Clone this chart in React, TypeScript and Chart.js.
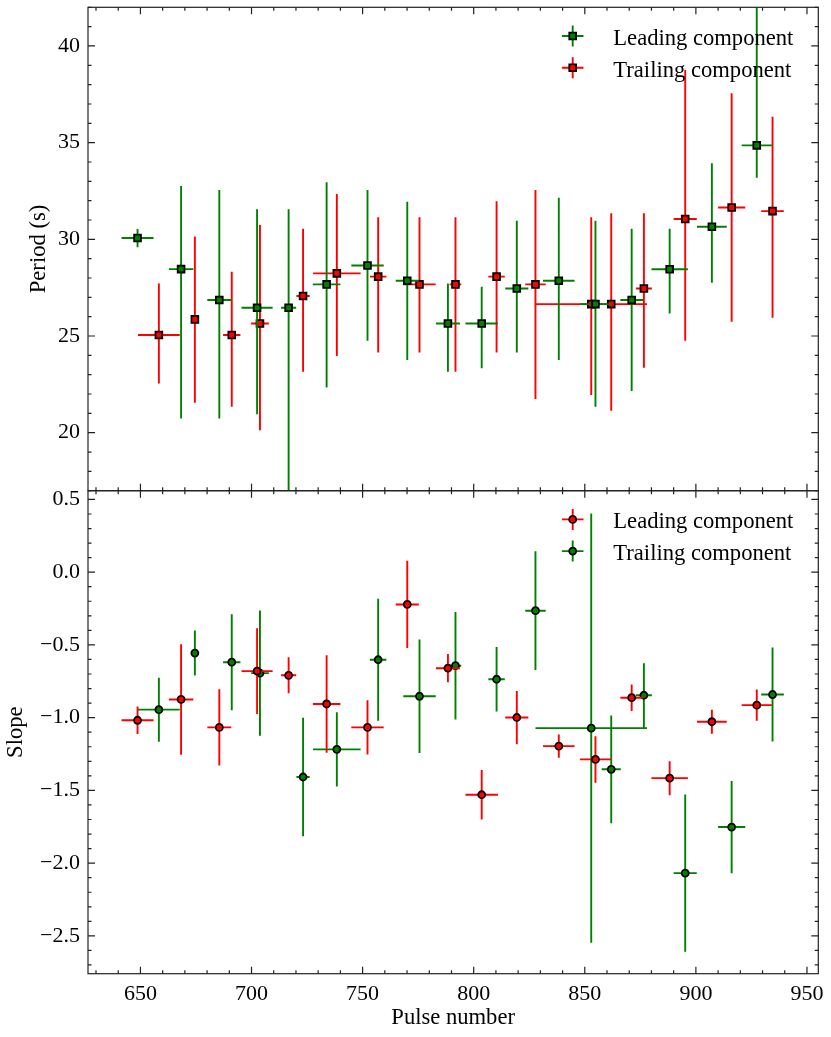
import React, { useEffect, useRef } from "react";
import Chart from "chart.js/auto";

const FONT = "'Liberation Serif', 'Times New Roman', serif";

// x axis
const pulseMin = 626.4;
const pulseMax = 955.1;
const pulseTicks = [650, 700, 750, 800, 850, 900, 950];
const periodTicks = [20, 25, 30, 35, 40];
const slopeTicks = [-2.5, -2.0, -1.5, -1.0, -0.5, 0.0, 0.5];

// pulse number of each fit (same windows in both panels)
const leadingPulse = [648.7, 668.3, 685.5, 702.5, 716.7, 733.8, 752.2, 770.1, 788.4, 803.6, 819.4, 838.3, 854.8, 871.1, 888.2, 907.2, 927.4];
const leadingPulseErr = [7.2, 5.5, 5.4, 7.0, 3.4, 6.2, 7.3, 5.2, 5.4, 7.3, 5.2, 7.1, 7.0, 5.1, 8.2, 6.7, 6.8];
const trailingPulse = [658.3, 674.5, 691.1, 703.8, 723.2, 738.4, 757.0, 775.6, 791.8, 810.3, 827.8, 852.9, 861.9, 876.6, 895.2, 916.1, 934.5];
const trailingPulseErr = [9.4, 1.0, 3.9, 4.0, 3.0, 10.7, 3.7, 7.3, 2.6, 3.7, 4.6, 25.1, 4.3, 3.6, 5.2, 6.1, 5.1];

// period (s), lower / upper errors
const leadingPeriod = [30.07, 28.46, 26.86, 26.46, 26.46, 27.67, 28.65, 27.86, 25.65, 25.65, 27.46, 27.86, 26.65, 26.86, 28.45, 30.65, 34.86];
const leadingPeriodLo = [0.48, 7.72, 6.12, 5.51, 10.5, 5.33, 3.9, 4.1, 2.5, 2.32, 3.31, 4.1, 5.31, 4.71, 2.28, 2.89, 1.67];
const leadingPeriodHi = [0.46, 4.3, 5.69, 5.09, 5.09, 5.28, 3.9, 4.09, 2.07, 1.9, 3.5, 4.29, 4.31, 3.69, 2.1, 3.28, 8.0];
const trailingPeriod = [25.05, 25.86, 25.05, 25.65, 27.07, 28.24, 28.07, 27.67, 27.67, 28.07, 27.67, 26.65, 26.65, 27.46, 31.05, 31.65, 31.46];
const trailingPeriodLo = [2.5, 4.31, 3.71, 5.52, 3.92, 4.28, 3.92, 3.52, 4.52, 3.92, 5.93, 4.7, 5.52, 4.1, 6.3, 5.91, 5.52];
const trailingPeriodHi = [2.67, 4.28, 3.27, 5.09, 3.48, 4.1, 3.07, 3.47, 3.47, 3.9, 4.88, 4.49, 4.7, 3.89, 7.71, 5.9, 4.88];

// slope, symmetric errors
const leadingSlope = [-1.018, -0.875, -1.067, -0.68, -0.709, -0.906, -1.067, -0.222, -0.66, -1.53, -0.999, -1.196, -1.287, -0.863, -1.416, -1.028, -0.914];
const leadingSlopeErr = [0.095, 0.38, 0.262, 0.295, 0.124, 0.335, 0.186, 0.3, 0.097, 0.17, 0.183, 0.08, 0.16, 0.091, 0.117, 0.082, 0.107];
const trailingSlope = [-0.945, -0.556, -0.619, -0.694, -1.408, -1.218, -0.602, -0.853, -0.643, -0.736, -0.265, -1.072, -1.355, -0.846, -2.069, -1.752, -0.841];
const trailingSlopeErr = [0.22, 0.155, 0.33, 0.43, 0.407, 0.255, 0.42, 0.39, 0.37, 0.222, 0.408, 1.475, 0.37, 0.22, 0.54, 0.317, 0.323];

const GREEN = "#008000";
const RED = "#ff0000";
const ERR_WIDTH = 1.9;

const points = (xs: number[], xe: number[], ys: number[], lo: number[], hi: number[]) =>
  xs.map((x, i) => ({ x, y: ys[i], xErr: xe[i], yLo: lo[i], yHi: hi[i] }));

const minus = (v: number, digits: number) => (v < 0 ? "\u2212" : "") + Math.abs(v).toFixed(digits);

const errorBars = {
  id: "errorBars",
  beforeDatasetDraw(chart: any, args: any) {
    const ds = chart.data.datasets[args.index];
    const { ctx, chartArea: a } = chart;
    const xs = chart.scales.x;
    const ys = chart.scales.y;
    ctx.save();
    ctx.beginPath();
    ctx.rect(a.left, a.top, a.right - a.left, a.bottom - a.top);
    ctx.clip();
    ctx.strokeStyle = ds.errorColor;
    ctx.lineWidth = ERR_WIDTH;
    ctx.beginPath();
    for (const p of ds.data) {
      const px = xs.getPixelForValue(p.x);
      const py = ys.getPixelForValue(p.y);
      if (p.xErr > 0) {
        ctx.moveTo(xs.getPixelForValue(p.x - p.xErr), py);
        ctx.lineTo(xs.getPixelForValue(p.x + p.xErr), py);
      }
      ctx.moveTo(px, ys.getPixelForValue(p.y - p.yLo));
      ctx.lineTo(px, ys.getPixelForValue(p.y + p.yHi));
    }
    ctx.stroke();
    ctx.restore();
  },
};

// matplotlib-like frame with inward ticks on every side
const frame = {
  id: "frame",
  afterDatasetsDraw(chart: any, _args: any, opts: any) {
    const { ctx, chartArea: a } = chart;
    const xs = chart.scales.x;
    const ys = chart.scales.y;
    const minors = (scale: any, step: number) => {
      const out: number[] = [];
      for (let k = Math.ceil(scale.min / step); k <= Math.floor(scale.max / step); k++) out.push(k * step);
      return out;
    };
    ctx.save();
    ctx.strokeStyle = "#222";
    ctx.lineWidth = 1.2;
    ctx.strokeRect(a.left, a.top, a.right - a.left, a.bottom - a.top);
    ctx.beginPath();
    const xMark = (v: number, len: number) => {
      const p = xs.getPixelForValue(v);
      ctx.moveTo(p, a.bottom);
      ctx.lineTo(p, a.bottom - len);
      ctx.moveTo(p, a.top);
      ctx.lineTo(p, a.top + len);
    };
    const yMark = (v: number, len: number) => {
      const p = ys.getPixelForValue(v);
      ctx.moveTo(a.left, p);
      ctx.lineTo(a.left + len, p);
      ctx.moveTo(a.right, p);
      ctx.lineTo(a.right - len, p);
    };
    const xMajor = xs.ticks.map((t: any) => t.value);
    const yMajor = ys.ticks.map((t: any) => t.value);
    xMajor.forEach((v: number) => xMark(v, 7));
    yMajor.forEach((v: number) => yMark(v, 7));
    minors(xs, opts.xMinor)
      .filter((v) => !xMajor.some((m: number) => Math.abs(m - v) < 1e-6))
      .forEach((v) => xMark(v, 3.5));
    minors(ys, opts.yMinor)
      .filter((v) => !yMajor.some((m: number) => Math.abs(m - v) < 1e-6))
      .forEach((v) => yMark(v, 3.5));
    ctx.stroke();
    ctx.restore();
  },
};

// legend inside the axes, upper right, errorbar-style handles
const inlineLegend = {
  id: "inlineLegend",
  afterDraw(chart: any) {
    const { ctx, chartArea: a } = chart;
    chart.data.datasets.forEach((ds: any, i: number) => {
      const cx = a.right - 245.6;
      const cy = a.top + 28.7 + i * 31.7;
      ctx.save();
      ctx.strokeStyle = ds.errorColor;
      ctx.lineWidth = ERR_WIDTH;
      ctx.beginPath();
      ctx.moveTo(cx - 10.8, cy);
      ctx.lineTo(cx + 10.8, cy);
      ctx.moveTo(cx, cy - 10.5);
      ctx.lineTo(cx, cy + 10.5);
      ctx.stroke();
      ctx.fillStyle = ds.pointBackgroundColor;
      ctx.strokeStyle = ds.pointBorderColor;
      ctx.lineWidth = ds.pointBorderWidth;
      ctx.beginPath();
      if (ds.pointStyle === "rect") {
        const s = ds.pointRadius * Math.SQRT1_2;
        ctx.rect(cx - s, cy - s, 2 * s, 2 * s);
      } else {
        ctx.arc(cx, cy, ds.pointRadius, 0, Math.PI * 2);
      }
      ctx.fill();
      ctx.stroke();
      ctx.fillStyle = "#000";
      ctx.font = `22.6px ${FONT}`;
      ctx.textAlign = "left";
      ctx.textBaseline = "alphabetic";
      ctx.fillText(ds.label, a.right - 205, cy + 9);
      ctx.restore();
    });
  },
};

const series = (label: string, data: any[], color: string, style: string) => ({
  label,
  data,
  errorColor: color,
  pointStyle: style,
  pointRadius: style === "rect" ? 4.8 : 3.5,
  pointHoverRadius: style === "rect" ? 4.8 : 3.5,
  pointBackgroundColor: color,
  pointBorderColor: "#000",
  pointBorderWidth: 1.8,
  showLine: false,
});

function buildConfig(opts: {
  datasets: any[];
  yMin: number;
  yMax: number;
  yTicks: number[];
  yTitle: string;
  yTitlePad: number;
  yFormat: (v: number) => string;
  yMinor: number;
  padTop: number;
  xHeight: number;
  xLabels: boolean;
}): any {
  return {
    type: "scatter",
    data: { datasets: opts.datasets },
    options: {
      responsive: false,
      maintainAspectRatio: false,
      animation: false,
      events: [],
      layout: { padding: { top: opts.padTop, right: 12.7, bottom: 0, left: 0 } },
      plugins: {
        legend: { display: false },
        tooltip: { enabled: false },
        frame: { xMinor: 10, yMinor: opts.yMinor },
      },
      scales: {
        x: {
          type: "linear",
          min: pulseMin,
          max: pulseMax,
          grid: { display: false, drawTicks: false },
          border: { display: false },
          ticks: {
            display: opts.xLabels,
            padding: 7,
            autoSkip: false,
            maxRotation: 0,
            color: "#000",
            font: { family: FONT, size: 22 },
            callback: (v: number) => String(v),
          },
          title: {
            display: opts.xLabels,
            text: "Pulse number",
            color: "#000",
            font: { family: FONT, size: 22.6 },
            padding: { top: 0, bottom: 5.3 },
          },
          afterBuildTicks: (s: any) => {
            s.ticks = pulseTicks.map((value) => ({ value }));
          },
          afterFit: (s: any) => {
            s.height = opts.xHeight;
            s.paddingLeft = 0;
            s.paddingRight = 0;
          },
        },
        y: {
          type: "linear",
          min: opts.yMin,
          max: opts.yMax,
          grid: { display: false, drawTicks: false },
          border: { display: false },
          ticks: {
            padding: 8,
            color: "#000",
            font: { family: FONT, size: 22 },
            callback: (v: number) => opts.yFormat(v),
          },
          title: {
            display: true,
            text: opts.yTitle,
            color: "#000",
            font: { family: FONT, size: 22.6 },
            padding: { top: opts.yTitlePad, bottom: 0 },
          },
          afterBuildTicks: (s: any) => {
            s.ticks = opts.yTicks.map((value) => ({ value }));
          },
          afterFit: (s: any) => {
            s.width = 88;
            s.paddingTop = 0;
            s.paddingBottom = 0;
          },
        },
      },
    },
    plugins: [errorBars, frame, inlineLegend],
  };
}

export default function App() {
  const topRef = useRef<HTMLCanvasElement | null>(null);
  const bottomRef = useRef<HTMLCanvasElement | null>(null);

  useEffect(() => {
    if (!topRef.current || !bottomRef.current) return;

    const top = new Chart(
      topRef.current,
      buildConfig({
        datasets: [
          series("Leading component", points(leadingPulse, leadingPulseErr, leadingPeriod, leadingPeriodLo, leadingPeriodHi), GREEN, "rect"),
          series("Trailing component", points(trailingPulse, trailingPulseErr, trailingPeriod, trailingPeriodLo, trailingPeriodHi), RED, "rect"),
        ],
        yMin: 17.0,
        yMax: 42.0,
        yTicks: periodTicks,
        yTitle: "Period (s)",
        yTitlePad: 25.5,
        yFormat: (v) => String(v),
        yMinor: 1,
        padTop: 7.3,
        xHeight: 9.3,
        xLabels: false,
      })
    );

    const bottom = new Chart(
      bottomRef.current,
      buildConfig({
        datasets: [
          series("Leading component", points(leadingPulse, leadingPulseErr, leadingSlope, leadingSlopeErr, leadingSlopeErr), RED, "circle"),
          series("Trailing component", points(trailingPulse, trailingPulseErr, trailingSlope, trailingSlopeErr, trailingSlopeErr), GREEN, "circle"),
        ],
        yMin: -2.76,
        yMax: 0.56,
        yTicks: slopeTicks,
        yTitle: "Slope",
        yTitlePad: 2.5,
        yFormat: (v) => minus(v, 1),
        yMinor: 0.1,
        padTop: 10.7,
        xHeight: 63.3,
        xLabels: true,
      })
    );

    return () => {
      top.destroy();
      bottom.destroy();
    };
  }, []);

  return (
    <div style={{ position: "absolute", left: 0, top: 0, width: 831, height: 1037, background: "#fff" }}>
      <canvas ref={topRef} width={831} height={500} style={{ position: "absolute", left: 0, top: 0 }} />
      <canvas ref={bottomRef} width={831} height={557} style={{ position: "absolute", left: 0, top: 480 }} />
    </div>
  );
}
